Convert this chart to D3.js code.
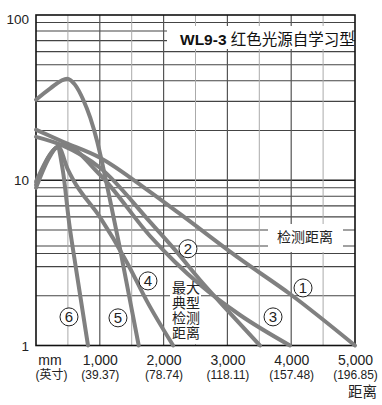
<!DOCTYPE html>
<html><head><meta charset="utf-8">
<script src="https://cdn.jsdelivr.net/npm/d3@7/dist/d3.min.js"></script>
<style>body{margin:0;background:#fff}svg{display:block}</style>
</head><body>
<script>
// ---- data ----
const xTicks = [1000, 2000, 3000, 4000, 5000];
const xTickMm = ["1,000", "2,000", "3,000", "4,000", "5,000"];
const xTickIn = ["(39.37)", "(78.74)", "(118.11)", "(157.48)", "(196.85)"];
const yTicks = [1, 10, 100];
const yTickLabels = ["1", "10", "100"];
const xGridMinor = [500, 1500, 2500, 3500, 4500];
const xGridMajor = [1000, 2000, 3000, 4000];
const yGrid = [2, 3, 3.6, 4, 5, 6, 7, 8, 9, 10, 20, 30, 40, 50, 60, 70, 80, 90];
const seriesNames = ["1", "2", "3", "4", "5", "6"];
const curve1 = [[0,20.2],[423,17.1],[1003,13.7],[1787,8.5],[2257,6.25],[3197,3.34],[3981,2.05],[5000,1]];
const curve2 = [[0,18.3],[423,16.2],[1003,11.9],[1787,5.6],[2179,3.79],[2571,2.49],[3041,1.57],[3511,1]];
const curve3 = [[0,9.4],[219,14.3],[423,16.4],[1003,10.8],[1787,4.6],[2179,3.2],[2571,2.33],[3197,1.53],[3981,1]];
const curve4 = [[0,9.0],[220,14.0],[345,16.0],[500,11.6],[580,10.1],[1000,6.0],[1430,3.16],[1740,1.85],[2150,1]];
const curve5 = [[0,30.7],[220,35.9],[490,41.2],[610,37.9],[740,30.7],[850,23.9],[960,17.1],[1050,12.1],[1160,7.6],[1320,3.8],[1470,1.9],[1610,1]];
const curve6 = [[0,9.8],[220,14.3],[330,15.8],[420,11.5],[520,5.5],[630,2.87],[815,1]];
const curves = [curve1, curve2, curve3, curve4, curve5, curve6];
// label anchors (mm, value)
const labelMm = [4185, 2382, 3715, 1755, 1285, 517];
const labelVal = [2.23, 3.85, 1.49, 2.46, 1.47, 1.49];

// ---- layout ----
const W = 382, H = 405;
const L = 36, R = 355, T = 15, B = 345.5;
const FONT = '"Liberation Sans", Arial, "Noto Sans CJK SC", sans-serif';
const svg = d3.select("body").append("svg").attr("width", W).attr("height", H)
  .style("font-family", FONT);

const x = d3.scaleLinear().domain([0, 5000]).range([L, R]);
const y = d3.scaleLog().domain([1, 100]).range([B, T]);

// grid
const g = svg.append("g");
g.selectAll(".hg").data(yGrid).join("line")
  .attr("x1", L).attr("x2", R).attr("y1", d => y(d)).attr("y2", d => y(d))
  .attr("stroke", d => d === 10 ? "#222" : "#444").attr("stroke-width", d => d === 10 ? 1.3 : 1.1);
g.selectAll(".vgm").data(xGridMinor).join("line")
  .attr("y1", T).attr("y2", B).attr("x1", d => x(d)).attr("x2", d => x(d))
  .attr("stroke", "#aaa").attr("stroke-width", 1);
g.selectAll(".vgM").data(xGridMajor).join("line")
  .attr("y1", T).attr("y2", B).attr("x1", d => x(d)).attr("x2", d => x(d))
  .attr("stroke", "#555").attr("stroke-width", 1.2);

// white boxes behind annotations
svg.append("rect").attr("x", 167).attr("y", 26).attr("width", 185).attr("height", 23).attr("fill", "#fff");
svg.append("rect").attr("x", 268).attr("y", 224).attr("width", 75).attr("height", 28).attr("fill", "#fff");
svg.append("rect").attr("x", 170).attr("y", 275).attr("width", 31).attr("height", 69).attr("fill", "#fff");

// border
svg.append("rect").attr("x", L).attr("y", T).attr("width", R - L).attr("height", B - T)
  .attr("fill", "none").attr("stroke", "#111").attr("stroke-width", 1.6);

// curves
const line = d3.line().x(d => x(d[0])).y(d => y(d[1])).curve(d3.curveMonotoneX);
svg.append("g").selectAll("path").data(curves).join("path")
  .attr("d", line).attr("fill", "none").attr("stroke", "#808080")
  .attr("stroke-width", 4).attr("stroke-linecap", "round").attr("stroke-linejoin", "round");

// circled labels
const lab = svg.append("g").selectAll("g").data(seriesNames).join("g")
  .attr("transform", (d, i) => `translate(${x(labelMm[i])},${y(labelVal[i])})`);
lab.append("circle").attr("r", 9).attr("fill", "#fff").attr("stroke", "#222").attr("stroke-width", 1);
lab.append("text").text(d => d).attr("text-anchor", "middle").attr("dy", "0.36em")
  .attr("font-size", 15).attr("fill", "#222");

// y axis
const yAxis = svg.append("g").attr("transform", `translate(${L},0)`)
  .call(d3.axisLeft(y).tickValues(yTicks).tickSize(0).tickPadding(7)
    .tickFormat((d, i) => yTickLabels[i]));
yAxis.select(".domain").remove();
yAxis.selectAll("text").attr("font-size", 13.5).attr("fill", "#222").style("font-family", FONT)
  .attr("dy", d => d === 100 ? "0.6em" : "0.35em");

// x axis
const xAxis = svg.append("g").attr("transform", `translate(0,${B})`)
  .call(d3.axisBottom(x).tickValues(xTicks).tickSize(0).tickFormat(() => ""));
xAxis.select(".domain").remove();
xAxis.selectAll(".tick text").each(function(d, i) {
  const t = d3.select(this).attr("y", 0).attr("dy", null).style("font-family", FONT).attr("fill", "#222");
  t.append("tspan").attr("x", 0).attr("y", 19).attr("font-size", 14).text(xTickMm[i]);
  t.append("tspan").attr("x", 0).attr("y", 33).attr("font-size", 12).text(xTickIn[i]);
});
svg.append("text").attr("x", 50).attr("y", 364.5).attr("text-anchor", "middle")
  .attr("font-size", 14).attr("fill", "#222").text("mm");
svg.append("text").attr("x", 51.5).attr("y", 378.5).attr("text-anchor", "middle")
  .attr("font-size", 12).attr("fill", "#222").text("(英寸)");
svg.append("text").attr("x", 377).attr("y", 397).attr("text-anchor", "end")
  .attr("font-size", 14.5).attr("fill", "#222").text("距离");

// annotations
const title = svg.append("text").attr("x", 180).attr("y", 45).attr("font-size", 15.5).attr("fill", "#111");
title.append("tspan").attr("font-weight", "bold").text("WL9-3");
title.append("tspan").text(" 红色光源自学习型");
svg.append("text").attr("x", 277).attr("y", 242).attr("font-size", 14).attr("fill", "#222").text("检测距离");
const multi = ["最大", "典型", "检测", "距离"];
svg.append("g").selectAll("text").data(multi).join("text")
  .attr("x", 172).attr("y", (d, i) => 293 + i * 15).attr("font-size", 14).attr("fill", "#222").text(d => d);
</script>
</body></html>
